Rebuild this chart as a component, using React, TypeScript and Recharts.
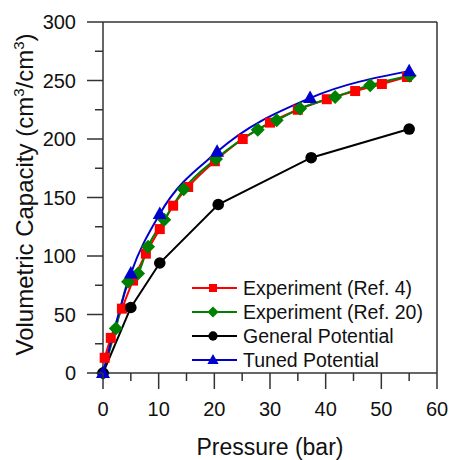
import { LineChart, Line, XAxis, YAxis, Legend } from "recharts";

// Experiment (Ref. 4)
const ref4Pressure = [0.3, 1.4, 3.4, 5.4, 7.7, 10.2, 12.6, 15.3, 20.1, 25.1, 30.0, 35.0, 40.2, 45.3, 50.1, 54.6];
const ref4Capacity = [13, 30, 55, 79, 102, 123, 143, 159, 181, 200, 214, 225, 234, 241, 247, 253];

// Experiment (Ref. 20)
const ref20Pressure = [0, 2.3, 4.5, 6.3, 8.1, 11.0, 14.5, 20.3, 27.8, 31.2, 35.4, 41.7, 48.0, 55.1];
const ref20Capacity = [0, 38, 78, 85, 108, 131, 157, 183, 208, 216, 226, 236, 246, 254];

// General Potential
const generalPressure = [0, 5, 10.2, 20.7, 37.4, 55];
const generalCapacity = [0, 56, 94, 144, 184, 208.5];

// Tuned Potential
const tunedPressure = [0, 5, 10.2, 20.5, 37.2, 55];
const tunedCapacity = [0, 85, 136, 189, 235, 258];

const xTicks = [0, 5, 10, 15, 20, 25, 30, 35, 40, 45, 50, 55, 60];
const yTicks = [0, 25, 50, 75, 100, 125, 150, 175, 200, 225, 250, 275, 300];

const toRows = (xs: number[], ys: number[]) => xs.map((p, i) => ({ pressure: p, capacity: ys[i] }));

const FONT = "'Liberation Sans', Arial, sans-serif";
const AXIS = "#333";

type Shape = "square" | "diamond" | "circle" | "triangle";

const series: { name: string; color: string; shape: Shape; curve: "monotone" | "linear"; rows: { pressure: number; capacity: number }[] }[] = [
  { name: "Experiment (Ref. 4)", color: "#ff0000", shape: "square", curve: "monotone", rows: toRows(ref4Pressure, ref4Capacity) },
  { name: "Experiment (Ref. 20)", color: "#008000", shape: "diamond", curve: "monotone", rows: toRows(ref20Pressure, ref20Capacity) },
  { name: "General Potential", color: "#000000", shape: "circle", curve: "linear", rows: toRows(generalPressure, generalCapacity) },
  { name: "Tuned Potential", color: "#0000cc", shape: "triangle", curve: "monotone", rows: toRows(tunedPressure, tunedCapacity) },
];

function Marker({ shape, cx, cy, color, k = 1 }: { shape: Shape; cx: number; cy: number; color: string; k?: number }) {
  if (shape === "square") {
    const s = 10 * k;
    return <rect x={cx - s / 2} y={cy - s / 2} width={s} height={s} fill={color} />;
  }
  if (shape === "diamond") {
    const h = 7 * k;
    return <polygon points={`${cx},${cy - h} ${cx + h},${cy} ${cx},${cy + h} ${cx - h},${cy}`} fill={color} />;
  }
  if (shape === "circle") {
    return <circle cx={cx} cy={cy} r={5.8 * k} fill={color} />;
  }
  return (
    <polygon
      points={`${cx},${cy - 7.5 * k} ${cx - 7 * k},${cy + 5 * k} ${cx + 7 * k},${cy + 5 * k}`}
      fill={color}
    />
  );
}

const BottomTick = ({ x, y, payload }: any) => {
  const major = payload.value % 10 === 0;
  return (
    <g>
      <line x1={x} x2={x} y1={y} y2={y + (major ? 16 : 8)} stroke={AXIS} strokeWidth={1.5} />
      {major && (
        <text x={x} y={y + 43} textAnchor="middle" fontSize={20} fontFamily={FONT} fill="#111">
          {payload.value}
        </text>
      )}
    </g>
  );
};

const TopTick = ({ x, y, payload }: any) => {
  const major = payload.value % 10 === 0;
  return <line x1={x} x2={x} y1={y} y2={y + (major ? 16 : 8)} stroke={AXIS} strokeWidth={1.5} />;
};

const LeftTick = ({ x, y, payload }: any) => {
  const major = payload.value % 50 === 0;
  return (
    <g>
      <line x1={x - (major ? 16 : 8)} x2={x} y1={y} y2={y} stroke={AXIS} strokeWidth={1.5} />
      {major && (
        <text x={x - 27} y={y} dy="0.36em" textAnchor="end" fontSize={20} fontFamily={FONT} fill="#111">
          {payload.value}
        </text>
      )}
    </g>
  );
};

const RightTick = ({ x, y, payload }: any) => {
  const major = payload.value % 50 === 0;
  return <line x1={x - (major ? 16 : 8)} x2={x} y1={y} y2={y} stroke={AXIS} strokeWidth={1.5} />;
};

const YLabel = ({ viewBox }: any) => {
  const cx = 33;
  const cy = viewBox.y + viewBox.height / 2 - 3;
  return (
    <text
      x={cx}
      y={cy}
      transform={`rotate(-90 ${cx} ${cy})`}
      textAnchor="middle"
      fontSize={24}
      fontFamily={FONT}
      fill="#111"
    >
      Volumetric Capacity (cm
      <tspan dy={-9} fontSize={15}>3</tspan>
      <tspan dy={9}>/cm</tspan>
      <tspan dy={-9} fontSize={15}>3</tspan>
      <tspan dy={9}>)</tspan>
    </text>
  );
};

const XLabel = ({ viewBox }: any) => (
  <text
    x={viewBox.x + viewBox.width / 2}
    y={455}
    textAnchor="middle"
    fontSize={23}
    fontFamily={FONT}
    fill="#111"
  >
    Pressure (bar)
  </text>
);

const LegendBox = () => (
  <svg width={250} height={100} style={{ display: "block" }}>
    {series.map((s, i) => {
      const y = 12 + i * 24;
      return (
        <g key={s.name}>
          <line x1={0} x2={45} y1={y} y2={y} stroke={s.color} strokeWidth={2} />
          <Marker shape={s.shape} cx={21} cy={y} color={s.color} k={0.8} />
          <text x={51} y={y + 7} fontSize={19.5} fontFamily={FONT} fill="#111">
            {s.name}
          </text>
        </g>
      );
    })}
  </svg>
);

export default function App() {
  return (
    <div style={{ position: "absolute", left: 0, top: 0, width: 449, height: 460, background: "#fff" }}>
      <LineChart width={449} height={460} margin={{ top: 21, right: 11, bottom: 0, left: 0 }}>
        <XAxis
          xAxisId="bottom"
          type="number"
          dataKey="pressure"
          domain={[0, 60]}
          ticks={xTicks}
          interval={0}
          height={87}
          tickSize={0}
          tickMargin={0}
          tickLine={false}
          tick={<BottomTick />}
          axisLine={{ stroke: AXIS, strokeWidth: 1.5 }}
          label={<XLabel />}
        />
        <XAxis
          xAxisId="top"
          orientation="top"
          type="number"
          dataKey="pressure"
          domain={[0, 60]}
          ticks={xTicks}
          interval={0}
          height={1}
          tickSize={0}
          tickMargin={0}
          tickLine={false}
          tick={<TopTick />}
          axisLine={{ stroke: AXIS, strokeWidth: 1.5 }}
        />
        <YAxis
          yAxisId="left"
          type="number"
          domain={[0, 300]}
          ticks={yTicks}
          interval={0}
          width={103}
          tickSize={0}
          tickMargin={0}
          tickLine={false}
          tick={<LeftTick />}
          axisLine={{ stroke: AXIS, strokeWidth: 1.5 }}
          label={<YLabel />}
        />
        <YAxis
          yAxisId="right"
          orientation="right"
          type="number"
          domain={[0, 300]}
          ticks={yTicks}
          interval={0}
          width={1}
          tickSize={0}
          tickMargin={0}
          tickLine={false}
          tick={<RightTick />}
          axisLine={{ stroke: AXIS, strokeWidth: 1.5 }}
        />
        <Legend
          layout="vertical"
          align="center"
          verticalAlign="middle"
          wrapperStyle={{ left: 192, top: 276, width: 250 }}
          content={<LegendBox />}
        />
        {series.map((s) => (
          <Line
            key={s.name}
            xAxisId="bottom"
            yAxisId="left"
            data={s.rows}
            dataKey="capacity"
            name={s.name}
            type={s.curve}
            stroke={s.color}
            strokeWidth={2}
            isAnimationActive={false}
            dot={(p: any) => (
              <Marker key={`${s.name}-${p.index}`} shape={s.shape} cx={p.cx} cy={p.cy} color={s.color} />
            )}
            activeDot={false}
          />
        ))}
      </LineChart>
    </div>
  );
}
